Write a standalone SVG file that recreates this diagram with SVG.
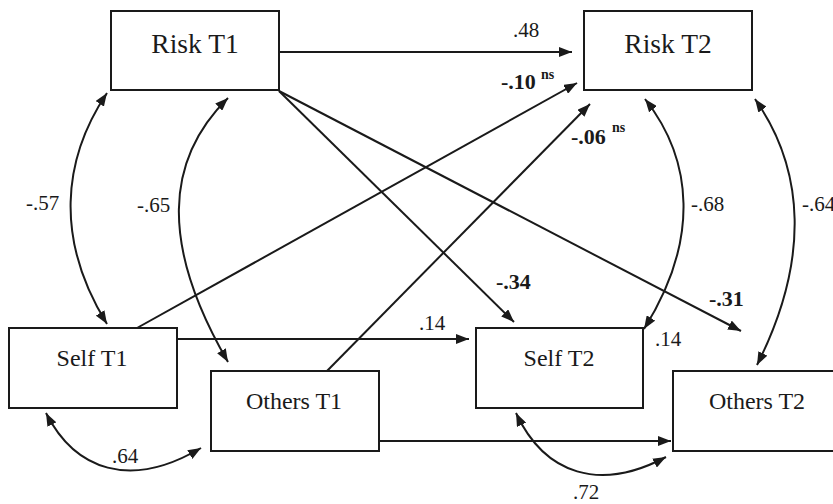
<svg xmlns="http://www.w3.org/2000/svg" width="833" height="504" viewBox="0 0 833 504">
<defs>
<marker id="ah" viewBox="0 0 13 10" refX="13" refY="5" markerWidth="13" markerHeight="10" markerUnits="userSpaceOnUse" orient="auto-start-reverse">
<path d="M0,0 L13,5 L0,10 z" fill="#1a1a1a"/>
</marker>
</defs>
<rect width="833" height="504" fill="#fff"/>
<g id="connectors" fill="none" stroke="#1a1a1a" stroke-width="2">
<g id="paths" marker-end="url(#ah)">
<path d="M279,52 L572,52"/>
<path d="M279,91 L514,322"/>
<path d="M279,91 L741,331"/>
<path d="M137,328 L577,83"/>
<path d="M327,371 L590,104"/>
<path d="M176,339 L469,339"/>
<path d="M377,441 L671,441"/>
</g>
<g id="correlations" marker-start="url(#ah)" marker-end="url(#ah)">
<path d="M107,93 C62,160 55,240 107,324"/>
<path d="M228,98 C165,160 160,245 228,362"/>
<path d="M645,99 C693,160 700,240 644,329"/>
<path d="M755,99 C805,170 810,260 757,365"/>
<path d="M46,413 C75,470 130,490 201,448"/>
<path d="M516,413 C545,475 600,492 666,457"/>
</g>
</g>
<g id="edge-labels" fill="#1a1a1a">
<text font-family="Liberation Serif" font-size="21" x="526" y="37" text-anchor="middle">.48</text>
<text font-family="Liberation Serif" font-size="21" x="26" y="210">-.57</text>
<text font-family="Liberation Serif" font-size="21" x="137" y="212">-.65</text>
<text font-family="Liberation Serif" font-size="21" x="691" y="211">-.68</text>
<text font-family="Liberation Serif" font-size="21" x="802" y="211">-.64</text>
<text font-family="Liberation Serif" font-size="22" font-weight="bold" x="501" y="89">-.10<tspan font-size="14" x="541" y="79">ns</tspan></text>
<text font-family="Liberation Serif" font-size="22" font-weight="bold" x="571" y="144">-.06<tspan font-size="14" x="612" y="132">ns</tspan></text>
<text font-family="Liberation Serif" font-size="22" font-weight="bold" x="496" y="289">-.34</text>
<text font-family="Liberation Serif" font-size="22" font-weight="bold" x="709" y="306">-.31</text>
<text font-family="Liberation Serif" font-size="21" x="419" y="330">.14</text>
<text font-family="Liberation Serif" font-size="21" x="655" y="346">.14</text>
<text font-family="Liberation Serif" font-size="21" x="112" y="463">.64</text>
<text font-family="Liberation Serif" font-size="21" x="573" y="499">.72</text>
</g>
<g id="nodes" fill="#fff" stroke="#1a1a1a" stroke-width="2">
<g id="risk-t1"><rect x="111" y="11" width="168" height="79"/><text font-family="Liberation Serif" font-size="27.5" fill="#1a1a1a" stroke="none" text-anchor="middle" x="195" y="53">Risk T1</text></g>
<g id="risk-t2"><rect x="584" y="11" width="168" height="79"/><text font-family="Liberation Serif" font-size="27.5" fill="#1a1a1a" stroke="none" text-anchor="middle" x="668" y="53">Risk T2</text></g>
<g id="self-t1"><rect x="9" y="328" width="168" height="80"/><text font-family="Liberation Serif" font-size="24" fill="#1a1a1a" stroke="none" text-anchor="middle" x="92" y="366">Self T1</text></g>
<g id="others-t1"><rect x="211" y="371" width="168" height="80"/><text font-family="Liberation Serif" font-size="24" fill="#1a1a1a" stroke="none" text-anchor="middle" x="294" y="409">Others T1</text></g>
<g id="self-t2"><rect x="476" y="328" width="167" height="80"/><text font-family="Liberation Serif" font-size="24" fill="#1a1a1a" stroke="none" text-anchor="middle" x="559" y="366">Self T2</text></g>
<g id="others-t2"><rect x="673" y="371" width="168" height="80"/><text font-family="Liberation Serif" font-size="24" fill="#1a1a1a" stroke="none" text-anchor="middle" x="757" y="409">Others T2</text></g>
</g>
</svg>
